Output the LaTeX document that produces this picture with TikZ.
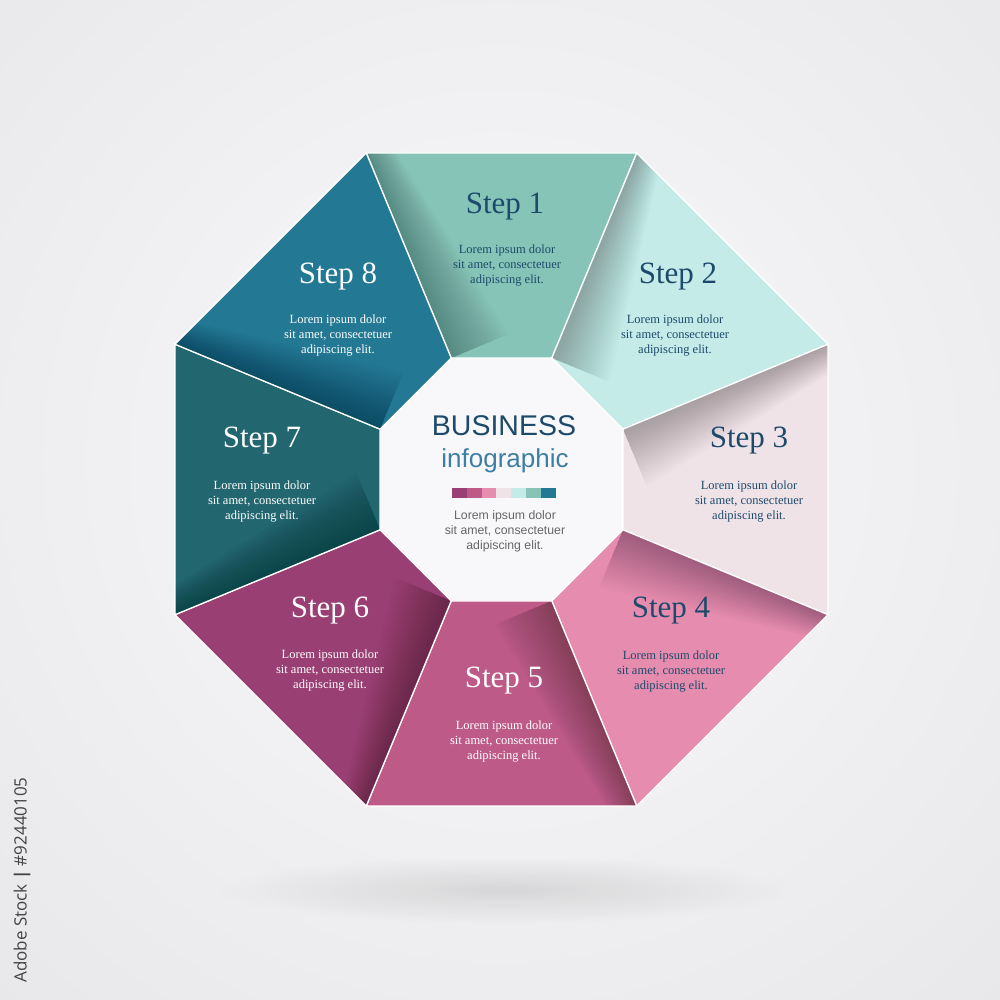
\documentclass[tikz,border=0pt]{standalone}
\usepackage{fontspec}
\setmainfont{Liberation Serif}
\newfontfamily\sansf{Liberation Sans}
\newfontfamily\wmfont{Open Sans}
\usetikzlibrary{fadings}
\definecolor{bgin}{HTML}{F9F9FB}
\definecolor{bgout}{HTML}{E3E3E5}
\definecolor{inner}{HTML}{F8F8FA}
\definecolor{sa}{HTML}{86C4B8}
\definecolor{sb}{HTML}{C4EBE8}
\definecolor{sc}{HTML}{F0E3E8}
\definecolor{sd}{HTML}{E68CAF}
\definecolor{se}{HTML}{BD5A88}
\definecolor{sf}{HTML}{9A3F74}
\definecolor{sg}{HTML}{226670}
\definecolor{sh}{HTML}{237894}
\definecolor{navy}{HTML}{1D4A6A}
\definecolor{infoblue}{HTML}{3D7EA6}
\definecolor{txtgray}{HTML}{666666}
\definecolor{wmgray}{HTML}{444444}
\tikzfading[name=softshadow, inner color=transparent!0, outer color=transparent!100]
\begin{document}
\begin{tikzpicture}[x=1pt,y=1pt,
  steptitle/.style={font=\fontsize{31}{34}\selectfont, inner sep=0pt},
  stepbody/.style={font=\fontsize{12.5}{15}\selectfont, align=center, inner sep=0pt},
  segedge/.style={draw=white, line width=1.3pt, line join=miter},
  chip/.style={minimum width=14.8pt, minimum height=10pt, inner sep=0pt, draw=none}]
\useasboundingbox (0,0) rectangle (1000,1000);
\begin{scope}
  \clip (0,0) rectangle (1000,1000);
  \shade[inner color=bgin, outer color=bgout] (-460,-420) rectangle (1460,1500);
\end{scope}
% soft shadow under the octagon
\fill[black, opacity=0.10, path fading=softshadow] (505,110) ellipse (290 and 34);
% inner octagon
\fill[inner, draw=white, line width=1.3pt] (501.5,520.5) ++(-50.33,121.5) -- ++(100.66,0) -- ++(71.17,-71.17) -- ++(0,-100.66) -- ++(-71.17,-71.17) -- ++(-100.66,0) -- ++(-71.17,71.17) -- ++(0,100.66) -- cycle;
% segments
\foreach \k/\col in {1/sa,2/sb,3/sc,4/sd,5/se,6/sf,7/sg,8/sh}{
  \begin{scope}[shift={(501.5,520.5)}, rotate={-45*(\k-1)}]
    \fill[\col] (-50.33,121.5) -- (-135.24,326.5) -- (135.24,326.5) -- (50.33,121.5) -- cycle;
    \begin{scope}
      \clip (-50.33,121.5) -- (-135.24,326.5) -- (135.24,326.5) -- (50.33,121.5) -- cycle;
      \foreach \i in {1,...,24}{
        \pgfmathsetmacro{\d}{2.6*\i}
        \pgfmathsetmacro{\e}{1.1*\i}
        \fill[black, opacity=0.011] (-50.33,121.5) -- (-135.24,326.5) -- ({-135.24+0.92388*\e},{326.5+0.38268*\e}) -- ({-50.33+0.92388*\d},{121.5+0.38268*\d}) -- cycle;
      }
    \end{scope}
    \draw[segedge] (-50.33,121.5) -- (-135.24,326.5) -- (135.24,326.5) -- (50.33,121.5) -- cycle;
  \end{scope}
}
% step texts
\node[steptitle, text=navy] (t1) at (505,793) {Step 1};
\node[stepbody, text=navy] (b1) at (507,734) {Lorem ipsum dolor\\sit amet, consectetuer\\adipiscing elit.};
\node[steptitle, text=navy] (t2) at (678,723) {Step 2};
\node[stepbody, text=navy] (b2) at (675,664) {Lorem ipsum dolor\\sit amet, consectetuer\\adipiscing elit.};
\node[steptitle, text=navy] (t3) at (749,559) {Step 3};
\node[stepbody, text=navy] (b3) at (749,498) {Lorem ipsum dolor\\sit amet, consectetuer\\adipiscing elit.};
\node[steptitle, text=navy] (t4) at (671,389) {Step 4};
\node[stepbody, text=navy] (b4) at (671,328) {Lorem ipsum dolor\\sit amet, consectetuer\\adipiscing elit.};
\node[steptitle, text=white] (t5) at (504,319) {Step 5};
\node[stepbody, text=white] (b5) at (504,258) {Lorem ipsum dolor\\sit amet, consectetuer\\adipiscing elit.};
\node[steptitle, text=white] (t6) at (330,389) {Step 6};
\node[stepbody, text=white] (b6) at (330,329) {Lorem ipsum dolor\\sit amet, consectetuer\\adipiscing elit.};
\node[steptitle, text=white] (t7) at (262,559) {Step 7};
\node[stepbody, text=white] (b7) at (262,498) {Lorem ipsum dolor\\sit amet, consectetuer\\adipiscing elit.};
\node[steptitle, text=white] (t8) at (338,723) {Step 8};
\node[stepbody, text=white] (b8) at (338,664) {Lorem ipsum dolor\\sit amet, consectetuer\\adipiscing elit.};
% center
\node[font=\sansf\fontsize{28.5}{30}\selectfont, text=navy, inner sep=0pt] (biz) at (504,574) {BUSINESS};
\node[font=\sansf\fontsize{26}{28}\selectfont, text=infoblue, inner sep=0pt] (info) at (505,539) {infographic};
\foreach \j/\col in {0/sf,1/se,2/sd,3/sc,4/sb,5/sa,6/sh}{
  \node[chip, fill=\col] (chip\j) at ({459.4+14.8*\j},507) {};
}
\node[font=\sansf\fontsize{12.3}{15}\selectfont, align=center, text=txtgray, inner sep=0pt] (cb) at (505,469) {Lorem ipsum dolor\\sit amet, consectetuer\\adipiscing elit.};
% side label
\node[rotate=90, font=\wmfont\fontsize{17}{17}\selectfont, text=wmgray, inner sep=0pt] (wm) at (22,120) {Adobe Stock \textbf{|} \#92440105};
\end{tikzpicture}
\end{document}
